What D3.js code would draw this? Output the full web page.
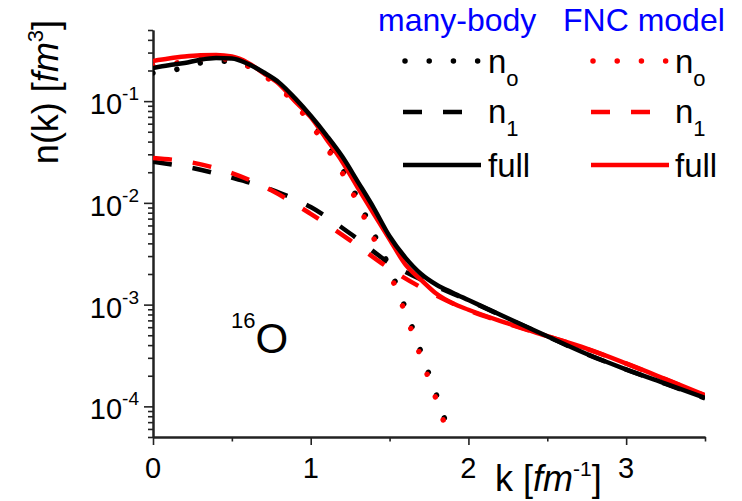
<!DOCTYPE html>
<html>
<head>
<meta charset="utf-8">
<script src="https://cdn.jsdelivr.net/npm/d3@7"></script>
<style>
body { margin: 0; background: #fff; }
text { font-family: "Liberation Sans", Arial, sans-serif; fill: #000; }
</style>
</head>
<body>
<div id="chart"></div>
<script>
// data (k in fm^-1, n(k) in fm^3)
var kN0 = [0, 0.1, 0.2, 0.3, 0.4, 0.5, 0.6, 0.7, 0.8, 0.9, 1.0, 1.1, 1.2, 1.3, 1.4, 1.5, 1.6, 1.7, 1.8, 1.9, 2.0];
var n0ManyBody = [0.189, 0.197, 0.215, 0.237, 0.248, 0.245, 0.222, 0.183, 0.14, 0.1, 0.065, 0.0385, 0.0218, 0.0108, 0.005, 0.0023, 0.00092, 0.00034, 0.000126, 0.000044, 0.000015];
var n0FNC = [0.222, 0.23, 0.245, 0.258, 0.262, 0.255, 0.222, 0.180, 0.135, 0.0948, 0.0597, 0.0352, 0.0198, 0.00975, 0.00448, 0.00206, 0.00082, 0.0003, 0.000112, 0.0000386, 0.0000134];

var kN1 = [0, 0.25, 0.5, 0.75, 1.0, 1.25, 1.5, 1.75, 2.0, 2.25, 2.5, 2.75, 3.0, 3.25, 3.5];
var n1ManyBody = [0.0254, 0.0220, 0.0177, 0.01347, 0.0091, 0.0050, 0.00256, 0.00162, 0.0011, 0.00073, 0.000487, 0.000326, 0.00023, 0.000166, 0.00012];
var n1FNC = [0.0276, 0.0249, 0.0196, 0.0133, 0.0078, 0.00428, 0.00226, 0.00134, 0.00088, 0.00065, 0.00049, 0.000368, 0.000263, 0.000184, 0.000128];

var kFull = [0, 0.1, 0.2, 0.3, 0.4, 0.5, 0.6, 0.7, 0.8, 0.9, 1.0, 1.1, 1.2, 1.3, 1.4, 1.5, 1.6, 1.7, 1.8, 1.9, 2.0, 2.25, 2.5, 2.75, 3.0, 3.25, 3.5];
var fullManyBody = [0.212, 0.225, 0.237, 0.255, 0.265, 0.262, 0.233, 0.192, 0.152, 0.107, 0.0717, 0.0461, 0.0285, 0.016, 0.0089, 0.0047, 0.0029, 0.0020, 0.00156, 0.00131, 0.00111, 0.000734, 0.000488, 0.000327, 0.000231, 0.000167, 0.000121];
var fullFNC = [0.248, 0.262, 0.274, 0.282, 0.284, 0.274, 0.239, 0.188, 0.147, 0.100, 0.0696, 0.0423, 0.0254, 0.0140, 0.0078, 0.00439, 0.00249, 0.001755, 0.00127, 0.00103, 0.00089, 0.000653, 0.00049, 0.000369, 0.000264, 0.000185, 0.000129];

var xMajor = [0, 1, 2, 3];
var xMinor = [0.5, 1.5, 2.5, 3.5];
var yMajor = [1e-4, 1e-3, 1e-2, 1e-1];
var yExp = ["-4", "-3", "-2", "-1"];

var svgWidth = 742;
var svgHeight = 501;
var margin = { top: 30, right: 37, bottom: 64, left: 153 };
var width = svgWidth - margin.left - margin.right;
var height = svgHeight - margin.top - margin.bottom;

var svg = d3.select("#chart")
  .append("svg")
  .attr("width", svgWidth)
  .attr("height", svgHeight);

var chartGroup = svg.append("g")
  .attr("transform", `translate(${margin.left}, ${margin.top})`);

var x = d3.scaleLinear().domain([0, 3.5]).range([0, width]);
var y = d3.scaleLog().domain([5e-5, 0.5]).range([height, 0]);

// minor y ticks: 2..9 x each decade inside the domain
var yMinor = [];
[1e-5, 1e-4, 1e-3, 1e-2, 1e-1].forEach(function(d) {
  for (var m = 2; m <= 9; m++) {
    var v = d * m;
    if (v >= 5e-5 * 0.999 && v <= 0.5 * 1.001) yMinor.push(v);
  }
});

// axes
var xAxisMinor = chartGroup.append("g")
  .attr("transform", `translate(0, ${height})`)
  .call(d3.axisBottom(x).tickValues(xMinor).tickSize(4.5).tickSizeOuter(0).tickFormat(""));
var xAxis = chartGroup.append("g")
  .attr("transform", `translate(0, ${height})`)
  .call(d3.axisBottom(x).tickValues(xMajor).tickSize(8).tickSizeOuter(0).tickFormat(""));
var yAxisMinor = chartGroup.append("g")
  .call(d3.axisLeft(y).tickValues(yMinor).tickSize(5).tickSizeOuter(0).tickFormat(""));
var yAxis = chartGroup.append("g")
  .call(d3.axisLeft(y).tickValues(yMajor).tickSize(9).tickSizeOuter(0).tickFormat(""));

chartGroup.selectAll(".domain").attr("stroke", "#222").attr("stroke-width", 2);
chartGroup.selectAll(".tick line").attr("stroke", "#222").attr("stroke-width", 1.6);

// tick labels
chartGroup.selectAll(".xlab")
  .data(xMajor)
  .enter()
  .append("text")
  .attr("x", d => x(d))
  .attr("y", height + 41)
  .attr("text-anchor", "middle")
  .style("font-size", "29px")
  .text(d => d);

var ylabs = chartGroup.selectAll(".ylab")
  .data(yMajor)
  .enter()
  .append("text")
  .attr("x", -14)
  .attr("y", d => y(d) + 13)
  .attr("text-anchor", "end")
  .style("font-size", "29px");
ylabs.append("tspan").text("10");
ylabs.append("tspan")
  .attr("dy", -14)
  .style("font-size", "19px")
  .text((d, i) => yExp[i]);

// axis titles
var yTitle = svg.append("text")
  .attr("transform", "translate(58, 92) rotate(-90)")
  .attr("text-anchor", "middle")
  .style("font-size", "36px");
yTitle.append("tspan").text("n(k) [");
yTitle.append("tspan").style("font-style", "italic").text("fm");
yTitle.append("tspan").attr("dy", -15).style("font-size", "22px").text("3");
yTitle.append("tspan").attr("dy", 15).text("]");

var xTitle = svg.append("text")
  .attr("x", 495)
  .attr("y", 491)
  .style("font-size", "36px");
xTitle.append("tspan").text("k [");
xTitle.append("tspan").style("font-style", "italic").text("fm");
xTitle.append("tspan").attr("dy", -15).style("font-size", "21px").text("-1");
xTitle.append("tspan").attr("dy", 15).text("]");

// nucleus label
var nucl = svg.append("text")
  .attr("x", 231)
  .attr("y", 353);
nucl.append("tspan").attr("dy", -25).style("font-size", "22px").text("16");
nucl.append("tspan").attr("dy", 25).style("font-size", "42px").text("O");

// curves
svg.append("defs").append("clipPath")
  .attr("id", "plotclip")
  .append("rect")
  .attr("x", 0).attr("y", 0)
  .attr("width", width).attr("height", height);

var plot = chartGroup.append("g").attr("clip-path", "url(#plotclip)");

var line = d3.line()
  .x(d => x(d[0]))
  .y(d => y(d[1]))
  .curve(d3.curveMonotoneX);

var dotted = "0.01, 24.2";
var dashed = "19, 21";

var series = [
  { k: kN0, v: n0ManyBody, color: "#000", dash: dotted, w: 5.5 },
  { k: kN0, v: n0FNC, color: "#ff0000", dash: dotted, w: 5.5 },
  { k: kN1, v: n1ManyBody, color: "#000", dash: dashed, w: 4.5 },
  { k: kN1, v: n1FNC, color: "#ff0000", dash: dashed, w: 4.5 },
  { k: kFull, v: fullFNC, color: "#ff0000", dash: null, w: 4.5 },
  { k: kFull, v: fullManyBody, color: "#000", dash: null, w: 4.5 }
];

series.forEach(function(s) {
  plot.append("path")
    .datum(s.k.map((k, i) => [k, s.v[i]]))
    .attr("fill", "none")
    .attr("stroke", s.color)
    .attr("stroke-width", s.w)
    .attr("stroke-linecap", s.dash === dotted ? "round" : "butt")
    .attr("stroke-dasharray", s.dash)
    .attr("d", line);
});

// legend
var legendCols = [
  { title: "many-body", titleX: 378, lineX: 403, textX: 488, color: "#000" },
  { title: "FNC model", titleX: 563, lineX: 591, textX: 675, color: "#ff0000" }
];
var legendRows = [
  { label: "n", sub: "o", dash: dotted, w: 5.5, lineY: 61, textY: 73 },
  { label: "n", sub: "1", dash: dashed, w: 4.5, lineY: 112, textY: 123 },
  { label: "full", sub: null, dash: null, w: 4.5, lineY: 165, textY: 177 }
];

legendCols.forEach(function(c) {
  svg.append("text")
    .attr("x", c.titleX)
    .attr("y", 31)
    .style("font-size", "32px")
    .style("fill", "#0000ff")
    .text(c.title);

  legendRows.forEach(function(r) {
    svg.append("line")
      .attr("x1", c.lineX + (r.dash === dotted ? 2 : 0))
      .attr("x2", c.lineX + 78)
      .attr("y1", r.lineY)
      .attr("y2", r.lineY)
      .attr("stroke", c.color)
      .attr("stroke-width", r.w)
      .attr("stroke-linecap", r.dash === dotted ? "round" : "butt")
      .attr("stroke-dasharray", r.dash);

    var t = svg.append("text")
      .attr("x", c.textX)
      .attr("y", r.textY)
      .style("font-size", "33px");
    t.append("tspan").text(r.label);
    if (r.sub) {
      t.append("tspan").attr("dy", 13).style("font-size", "22px").text(r.sub);
    }
  });
});
</script>
</body>
</html>
